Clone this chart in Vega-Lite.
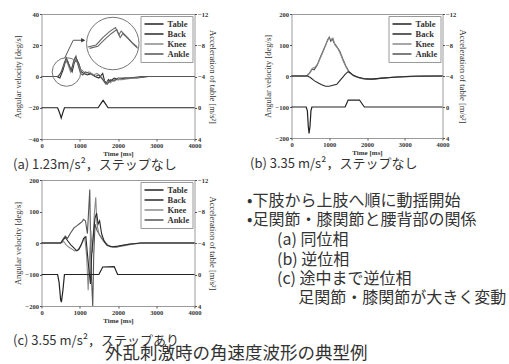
{
"$schema":"https://vega.github.io/schema/vega-lite/v6.json",
"padding":{"left":11.5,"top":10,"right":0,"bottom":0},
"background":"white",
"datasets":{
"w":[
{"p":"a","s":"Back","t":0,"v":0},{"p":"a","s":"Back","t":400,"v":0},{"p":"a","s":"Back","t":480,"v":-1},{"p":"a","s":"Back","t":560,"v":4},{"p":"a","s":"Back","t":620,"v":9},{"p":"a","s":"Back","t":680,"v":10},{"p":"a","s":"Back","t":740,"v":6},{"p":"a","s":"Back","t":800,"v":3},{"p":"a","s":"Back","t":860,"v":9},{"p":"a","s":"Back","t":920,"v":11},{"p":"a","s":"Back","t":980,"v":8},{"p":"a","s":"Back","t":1040,"v":3},{"p":"a","s":"Back","t":1100,"v":2},{"p":"a","s":"Back","t":1200,"v":1},{"p":"a","s":"Back","t":1300,"v":2},{"p":"a","s":"Back","t":1400,"v":0},{"p":"a","s":"Back","t":1500,"v":-1},{"p":"a","s":"Back","t":1600,"v":2},{"p":"a","s":"Back","t":1650,"v":-3},{"p":"a","s":"Back","t":1700,"v":-4},{"p":"a","s":"Back","t":1750,"v":-2},{"p":"a","s":"Back","t":1800,"v":-3},{"p":"a","s":"Back","t":1900,"v":-1},{"p":"a","s":"Back","t":2000,"v":-2},{"p":"a","s":"Back","t":2200,"v":-1},{"p":"a","s":"Back","t":2500,"v":-1},{"p":"a","s":"Back","t":2800,"v":0},{"p":"a","s":"Back","t":3200,"v":0},{"p":"a","s":"Back","t":4000,"v":0},
{"p":"a","s":"Knee","t":0,"v":0},{"p":"a","s":"Knee","t":420,"v":0},{"p":"a","s":"Knee","t":500,"v":2},{"p":"a","s":"Knee","t":580,"v":7},{"p":"a","s":"Knee","t":640,"v":11},{"p":"a","s":"Knee","t":700,"v":7},{"p":"a","s":"Knee","t":760,"v":3},{"p":"a","s":"Knee","t":820,"v":7},{"p":"a","s":"Knee","t":880,"v":12},{"p":"a","s":"Knee","t":940,"v":9},{"p":"a","s":"Knee","t":1000,"v":5},{"p":"a","s":"Knee","t":1060,"v":4},{"p":"a","s":"Knee","t":1150,"v":2},{"p":"a","s":"Knee","t":1250,"v":3},{"p":"a","s":"Knee","t":1350,"v":1},{"p":"a","s":"Knee","t":1450,"v":2},{"p":"a","s":"Knee","t":1550,"v":0},{"p":"a","s":"Knee","t":1620,"v":-2},{"p":"a","s":"Knee","t":1680,"v":-5},{"p":"a","s":"Knee","t":1740,"v":-3},{"p":"a","s":"Knee","t":1800,"v":-4},{"p":"a","s":"Knee","t":1900,"v":-2},{"p":"a","s":"Knee","t":2100,"v":-2},{"p":"a","s":"Knee","t":2400,"v":-1},{"p":"a","s":"Knee","t":2700,"v":0},{"p":"a","s":"Knee","t":4000,"v":0},
{"p":"a","s":"Ankle","t":0,"v":0},{"p":"a","s":"Ankle","t":440,"v":0},{"p":"a","s":"Ankle","t":520,"v":3},{"p":"a","s":"Ankle","t":600,"v":9},{"p":"a","s":"Ankle","t":650,"v":12},{"p":"a","s":"Ankle","t":710,"v":8},{"p":"a","s":"Ankle","t":780,"v":4},{"p":"a","s":"Ankle","t":840,"v":10},{"p":"a","s":"Ankle","t":900,"v":13},{"p":"a","s":"Ankle","t":960,"v":7},{"p":"a","s":"Ankle","t":1020,"v":2},{"p":"a","s":"Ankle","t":1080,"v":1},{"p":"a","s":"Ankle","t":1150,"v":3},{"p":"a","s":"Ankle","t":1250,"v":2},{"p":"a","s":"Ankle","t":1400,"v":0},{"p":"a","s":"Ankle","t":1500,"v":1},{"p":"a","s":"Ankle","t":1600,"v":-2},{"p":"a","s":"Ankle","t":1660,"v":-4},{"p":"a","s":"Ankle","t":1720,"v":-5},{"p":"a","s":"Ankle","t":1800,"v":-2},{"p":"a","s":"Ankle","t":1900,"v":-3},{"p":"a","s":"Ankle","t":2000,"v":-1},{"p":"a","s":"Ankle","t":2300,"v":-1},{"p":"a","s":"Ankle","t":2600,"v":0},{"p":"a","s":"Ankle","t":4000,"v":0},
{"p":"a","s":"Table","t":0,"v":0},{"p":"a","s":"Table","t":420,"v":0},{"p":"a","s":"Table","t":470,"v":0.6},{"p":"a","s":"Table","t":515,"v":1.3},{"p":"a","s":"Table","t":560,"v":0.6},{"p":"a","s":"Table","t":600,"v":0},{"p":"a","s":"Table","t":1480,"v":0},{"p":"a","s":"Table","t":1560,"v":-0.6},{"p":"a","s":"Table","t":1610,"v":-0.95},{"p":"a","s":"Table","t":1660,"v":-0.6},{"p":"a","s":"Table","t":1740,"v":0},{"p":"a","s":"Table","t":4000,"v":0},
{"p":"b","s":"Ankle","t":0,"v":0},{"p":"b","s":"Ankle","t":400,"v":0},{"p":"b","s":"Ankle","t":480,"v":10},{"p":"b","s":"Ankle","t":540,"v":22},{"p":"b","s":"Ankle","t":600,"v":20},{"p":"b","s":"Ankle","t":680,"v":35},{"p":"b","s":"Ankle","t":760,"v":60},{"p":"b","s":"Ankle","t":840,"v":82},{"p":"b","s":"Ankle","t":920,"v":105},{"p":"b","s":"Ankle","t":960,"v":118},{"p":"b","s":"Ankle","t":1000,"v":125},{"p":"b","s":"Ankle","t":1040,"v":112},{"p":"b","s":"Ankle","t":1080,"v":120},{"p":"b","s":"Ankle","t":1120,"v":108},{"p":"b","s":"Ankle","t":1200,"v":95},{"p":"b","s":"Ankle","t":1280,"v":80},{"p":"b","s":"Ankle","t":1360,"v":55},{"p":"b","s":"Ankle","t":1440,"v":32},{"p":"b","s":"Ankle","t":1520,"v":15},{"p":"b","s":"Ankle","t":1600,"v":5},{"p":"b","s":"Ankle","t":1700,"v":-2},{"p":"b","s":"Ankle","t":1850,"v":-8},{"p":"b","s":"Ankle","t":2000,"v":-11},{"p":"b","s":"Ankle","t":2200,"v":-10},{"p":"b","s":"Ankle","t":2400,"v":-7},{"p":"b","s":"Ankle","t":2700,"v":-4},{"p":"b","s":"Ankle","t":3000,"v":-2},{"p":"b","s":"Ankle","t":3500,"v":0},{"p":"b","s":"Ankle","t":4000,"v":0},
{"p":"b","s":"Knee","t":0,"v":0},{"p":"b","s":"Knee","t":420,"v":0},{"p":"b","s":"Knee","t":500,"v":12},{"p":"b","s":"Knee","t":560,"v":25},{"p":"b","s":"Knee","t":620,"v":28},{"p":"b","s":"Knee","t":700,"v":40},{"p":"b","s":"Knee","t":780,"v":62},{"p":"b","s":"Knee","t":860,"v":85},{"p":"b","s":"Knee","t":940,"v":110},{"p":"b","s":"Knee","t":990,"v":122},{"p":"b","s":"Knee","t":1050,"v":118},{"p":"b","s":"Knee","t":1100,"v":122},{"p":"b","s":"Knee","t":1150,"v":100},{"p":"b","s":"Knee","t":1230,"v":88},{"p":"b","s":"Knee","t":1300,"v":70},{"p":"b","s":"Knee","t":1380,"v":45},{"p":"b","s":"Knee","t":1460,"v":25},{"p":"b","s":"Knee","t":1540,"v":10},{"p":"b","s":"Knee","t":1650,"v":0},{"p":"b","s":"Knee","t":1800,"v":-6},{"p":"b","s":"Knee","t":2000,"v":-10},{"p":"b","s":"Knee","t":2300,"v":-8},{"p":"b","s":"Knee","t":2600,"v":-5},{"p":"b","s":"Knee","t":3000,"v":-2},{"p":"b","s":"Knee","t":4000,"v":0},
{"p":"b","s":"Back","t":0,"v":0},{"p":"b","s":"Back","t":420,"v":0},{"p":"b","s":"Back","t":500,"v":-5},{"p":"b","s":"Back","t":600,"v":-15},{"p":"b","s":"Back","t":700,"v":-22},{"p":"b","s":"Back","t":800,"v":-28},{"p":"b","s":"Back","t":900,"v":-33},{"p":"b","s":"Back","t":1000,"v":-33},{"p":"b","s":"Back","t":1100,"v":-30},{"p":"b","s":"Back","t":1200,"v":-27},{"p":"b","s":"Back","t":1280,"v":-15},{"p":"b","s":"Back","t":1350,"v":-5},{"p":"b","s":"Back","t":1420,"v":5},{"p":"b","s":"Back","t":1500,"v":14},{"p":"b","s":"Back","t":1560,"v":10},{"p":"b","s":"Back","t":1640,"v":2},{"p":"b","s":"Back","t":1750,"v":-3},{"p":"b","s":"Back","t":1900,"v":-8},{"p":"b","s":"Back","t":2100,"v":-10},{"p":"b","s":"Back","t":2400,"v":-7},{"p":"b","s":"Back","t":2800,"v":-3},{"p":"b","s":"Back","t":3200,"v":-1},{"p":"b","s":"Back","t":4000,"v":0},
{"p":"b","s":"Table","t":0,"v":0},{"p":"b","s":"Table","t":390,"v":0},{"p":"b","s":"Table","t":420,"v":0.5},{"p":"b","s":"Table","t":445,"v":2.5},{"p":"b","s":"Table","t":465,"v":3.4},{"p":"b","s":"Table","t":490,"v":2.5},{"p":"b","s":"Table","t":515,"v":0.5},{"p":"b","s":"Table","t":540,"v":0},{"p":"b","s":"Table","t":1420,"v":0},{"p":"b","s":"Table","t":1500,"v":-0.9},{"p":"b","s":"Table","t":1800,"v":-0.9},{"p":"b","s":"Table","t":1930,"v":0},{"p":"b","s":"Table","t":4000,"v":0},
{"p":"c","s":"Ankle","t":0,"v":0},{"p":"c","s":"Ankle","t":500,"v":0},{"p":"c","s":"Ankle","t":560,"v":12},{"p":"c","s":"Ankle","t":620,"v":22},{"p":"c","s":"Ankle","t":680,"v":15},{"p":"c","s":"Ankle","t":760,"v":32},{"p":"c","s":"Ankle","t":850,"v":48},{"p":"c","s":"Ankle","t":930,"v":55},{"p":"c","s":"Ankle","t":1000,"v":62},{"p":"c","s":"Ankle","t":1060,"v":68},{"p":"c","s":"Ankle","t":1100,"v":75},{"p":"c","s":"Ankle","t":1150,"v":70},{"p":"c","s":"Ankle","t":1200,"v":30},{"p":"c","s":"Ankle","t":1240,"v":120},{"p":"c","s":"Ankle","t":1262,"v":170},{"p":"c","s":"Ankle","t":1285,"v":-20},{"p":"c","s":"Ankle","t":1310,"v":-120},{"p":"c","s":"Ankle","t":1340,"v":-200},{"p":"c","s":"Ankle","t":1365,"v":-40},{"p":"c","s":"Ankle","t":1400,"v":60},{"p":"c","s":"Ankle","t":1450,"v":40},{"p":"c","s":"Ankle","t":1520,"v":25},{"p":"c","s":"Ankle","t":1600,"v":10},{"p":"c","s":"Ankle","t":1700,"v":-5},{"p":"c","s":"Ankle","t":1800,"v":-12},{"p":"c","s":"Ankle","t":1950,"v":-13},{"p":"c","s":"Ankle","t":2100,"v":-8},{"p":"c","s":"Ankle","t":2300,"v":-3},{"p":"c","s":"Ankle","t":2600,"v":0},{"p":"c","s":"Ankle","t":4000,"v":0},
{"p":"c","s":"Knee","t":0,"v":0},{"p":"c","s":"Knee","t":520,"v":0},{"p":"c","s":"Knee","t":580,"v":5},{"p":"c","s":"Knee","t":640,"v":-5},{"p":"c","s":"Knee","t":700,"v":-12},{"p":"c","s":"Knee","t":780,"v":-18},{"p":"c","s":"Knee","t":860,"v":-25},{"p":"c","s":"Knee","t":950,"v":-22},{"p":"c","s":"Knee","t":1020,"v":-10},{"p":"c","s":"Knee","t":1080,"v":5},{"p":"c","s":"Knee","t":1130,"v":18},{"p":"c","s":"Knee","t":1180,"v":-40},{"p":"c","s":"Knee","t":1220,"v":-150},{"p":"c","s":"Knee","t":1250,"v":-60},{"p":"c","s":"Knee","t":1290,"v":40},{"p":"c","s":"Knee","t":1330,"v":-30},{"p":"c","s":"Knee","t":1380,"v":90},{"p":"c","s":"Knee","t":1418,"v":145},{"p":"c","s":"Knee","t":1450,"v":60},{"p":"c","s":"Knee","t":1500,"v":30},{"p":"c","s":"Knee","t":1560,"v":20},{"p":"c","s":"Knee","t":1650,"v":5},{"p":"c","s":"Knee","t":1750,"v":-8},{"p":"c","s":"Knee","t":1900,"v":-14},{"p":"c","s":"Knee","t":2100,"v":-10},{"p":"c","s":"Knee","t":2400,"v":-3},{"p":"c","s":"Knee","t":2700,"v":0},{"p":"c","s":"Knee","t":4000,"v":0},
{"p":"c","s":"Back","t":0,"v":0},{"p":"c","s":"Back","t":500,"v":0},{"p":"c","s":"Back","t":560,"v":8},{"p":"c","s":"Back","t":620,"v":18},{"p":"c","s":"Back","t":680,"v":8},{"p":"c","s":"Back","t":760,"v":-5},{"p":"c","s":"Back","t":840,"v":-15},{"p":"c","s":"Back","t":920,"v":-25},{"p":"c","s":"Back","t":980,"v":-20},{"p":"c","s":"Back","t":1040,"v":-5},{"p":"c","s":"Back","t":1100,"v":15},{"p":"c","s":"Back","t":1160,"v":20},{"p":"c","s":"Back","t":1220,"v":-60},{"p":"c","s":"Back","t":1280,"v":-130},{"p":"c","s":"Back","t":1310,"v":-40},{"p":"c","s":"Back","t":1360,"v":30},{"p":"c","s":"Back","t":1400,"v":80},{"p":"c","s":"Back","t":1440,"v":95},{"p":"c","s":"Back","t":1480,"v":60},{"p":"c","s":"Back","t":1520,"v":70},{"p":"c","s":"Back","t":1570,"v":30},{"p":"c","s":"Back","t":1640,"v":5},{"p":"c","s":"Back","t":1720,"v":-8},{"p":"c","s":"Back","t":1850,"v":-12},{"p":"c","s":"Back","t":2000,"v":-10},{"p":"c","s":"Back","t":2300,"v":-4},{"p":"c","s":"Back","t":2600,"v":0},{"p":"c","s":"Back","t":4000,"v":0},
{"p":"c","s":"Table","t":0,"v":0},{"p":"c","s":"Table","t":420,"v":0},{"p":"c","s":"Table","t":460,"v":1},{"p":"c","s":"Table","t":500,"v":3.2},{"p":"c","s":"Table","t":520,"v":3.5},{"p":"c","s":"Table","t":560,"v":2},{"p":"c","s":"Table","t":600,"v":0},{"p":"c","s":"Table","t":1500,"v":0},{"p":"c","s":"Table","t":1600,"v":-0.95},{"p":"c","s":"Table","t":1900,"v":-1.0},{"p":"c","s":"Table","t":1990,"v":0},{"p":"c","s":"Table","t":4000,"v":0}
],
"ann":[
{"k":"src","t":654,"v":2.9},
{"k":"dst","t":1864,"v":21.1},
{"k":"conn","t":609,"v":12.0},{"k":"conn","t":829,"v":23.2},{"k":"conn","t":1090,"v":23.2},
{"k":"arrow","t":1090,"v":23.2},
{"k":"in1","t":1211,"v":18.9},{"k":"in1","t":1429,"v":20.2},{"k":"in1","t":1603,"v":24.9},{"k":"in1","t":1778,"v":28.7},{"k":"in1","t":1935,"v":31.3},{"k":"in1","t":2022,"v":26.6},{"k":"in1","t":2083,"v":29.1},{"k":"in1","t":2214,"v":25.9},{"k":"in1","t":2370,"v":21.7},{"k":"in1","t":2501,"v":18.9},
{"k":"in2","t":1255,"v":18.0},{"k":"in2","t":1473,"v":19.3},{"k":"in2","t":1647,"v":23.6},{"k":"in2","t":1821,"v":27.4},{"k":"in2","t":1969,"v":30.0},{"k":"in2","t":2057,"v":24.9},{"k":"in2","t":2126,"v":27.4},{"k":"in2","t":2257,"v":24.4},{"k":"in2","t":2405,"v":20.6},{"k":"in2","t":2519,"v":18.0}
],
"txt":[
{"line":1,"indent":0,"text":"•下肢から上肢へ順に動揺開始"},
{"line":2,"indent":0,"text":"•足関節・膝関節と腰背部の関係"},
{"line":3,"indent":1.875,"text":"(a) 同位相"},
{"line":4,"indent":1.875,"text":"(b) 逆位相"},
{"line":5,"indent":1.875,"text":"(c) 途中まで逆位相"},
{"line":5.92,"indent":3.2,"text":"足関節・膝関節が大きく変動"}
]
},
"title":{"text":"外乱刺激時の角速度波形の典型例","orient":"bottom","anchor":"middle","fontSize":17.5,"offset":-3,"dx":-23},
"vconcat":[
{"hconcat":[
{"width":153,"height":125,
"title":{"text":"(a) 1.23m/s²，ステップなし","orient":"bottom","anchor":"start","offset":2},
"layer":[
{"layer":[
{"data":{"name":"w"},"transform":[{"filter":"datum.p==='a' && datum.s!=='Table'"}],"mark":{"type":"line","strokeWidth":1.1},
"encoding":{"x":{"field":"t","type":"quantitative","scale":{"domain":[0,4000],"nice":false},"axis":{"title":"Time [ms]","values":[0,1000,2000,3000,4000],"format":"d","titleFontSize":7,"titleFontWeight":"bold","titlePadding":1}},
"y":{"field":"v","type":"quantitative","scale":{"domain":[-40,40],"nice":false},"axis":{"title":"Angular velocity [deg/s]","values":[-40,-20,0,20,40],"format":"d","titleX":-19.5}},
"color":{"field":"s","type":"nominal","scale":{"domain":["Table","Back","Knee","Ankle"],"range":["#222222","#2a2a2a","#8a8a8a","#555555"]},"legend":{"title":null}}}},
{"data":{"name":"ann"},"transform":[{"filter":"datum.k==='src'"}],"mark":{"type":"point","shape":"circle","size":820,"filled":false,"color":"#777777","strokeWidth":1,"opacity":1},
"encoding":{"x":{"field":"t","type":"quantitative","scale":{"domain":[0,4000],"nice":false},"axis":{"title":"Time [ms]","values":[0,1000,2000,3000,4000],"format":"d","titleFontSize":7,"titleFontWeight":"bold","titlePadding":1}},"y":{"field":"v","type":"quantitative","scale":{"domain":[-40,40],"nice":false},"axis":{"title":"Angular velocity [deg/s]","values":[-40,-20,0,20,40],"format":"d","titleX":-19.5}}}},
{"data":{"name":"ann"},"transform":[{"filter":"datum.k==='dst'"}],"mark":{"type":"point","shape":"circle","size":2750,"filled":true,"fill":"white","stroke":"#777777","strokeWidth":1,"opacity":1},
"encoding":{"x":{"field":"t","type":"quantitative","scale":{"domain":[0,4000],"nice":false},"axis":{"title":"Time [ms]","values":[0,1000,2000,3000,4000],"format":"d","titleFontSize":7,"titleFontWeight":"bold","titlePadding":1}},"y":{"field":"v","type":"quantitative","scale":{"domain":[-40,40],"nice":false},"axis":{"title":"Angular velocity [deg/s]","values":[-40,-20,0,20,40],"format":"d","titleX":-19.5}}}},
{"data":{"name":"ann"},"transform":[{"filter":"datum.k==='conn'"}],"mark":{"type":"line","color":"#555555","strokeWidth":1},
"encoding":{"x":{"field":"t","type":"quantitative","scale":{"domain":[0,4000],"nice":false},"axis":{"title":"Time [ms]","values":[0,1000,2000,3000,4000],"format":"d","titleFontSize":7,"titleFontWeight":"bold","titlePadding":1}},"y":{"field":"v","type":"quantitative","scale":{"domain":[-40,40],"nice":false},"axis":{"title":"Angular velocity [deg/s]","values":[-40,-20,0,20,40],"format":"d","titleX":-19.5}}}},
{"data":{"name":"ann"},"transform":[{"filter":"datum.k==='arrow'"}],"mark":{"type":"point","shape":"triangle-right","size":22,"filled":true,"color":"#333333","opacity":1},
"encoding":{"x":{"field":"t","type":"quantitative","scale":{"domain":[0,4000],"nice":false},"axis":{"title":"Time [ms]","values":[0,1000,2000,3000,4000],"format":"d","titleFontSize":7,"titleFontWeight":"bold","titlePadding":1}},"y":{"field":"v","type":"quantitative","scale":{"domain":[-40,40],"nice":false},"axis":{"title":"Angular velocity [deg/s]","values":[-40,-20,0,20,40],"format":"d","titleX":-19.5}}}},
{"data":{"name":"ann"},"transform":[{"filter":"datum.k==='in1' || datum.k==='in2'"}],"mark":{"type":"line","color":"#666666","strokeWidth":1.1},
"encoding":{"x":{"field":"t","type":"quantitative","scale":{"domain":[0,4000],"nice":false},"axis":{"title":"Time [ms]","values":[0,1000,2000,3000,4000],"format":"d","titleFontSize":7,"titleFontWeight":"bold","titlePadding":1}},"y":{"field":"v","type":"quantitative","scale":{"domain":[-40,40],"nice":false},"axis":{"title":"Angular velocity [deg/s]","values":[-40,-20,0,20,40],"format":"d","titleX":-19.5}},"detail":{"field":"k"}}}
]},
{"data":{"name":"w"},"transform":[{"filter":"datum.p==='a' && datum.s==='Table'"}],"mark":{"type":"line","strokeWidth":1.2},
"encoding":{"x":{"field":"t","type":"quantitative","scale":{"domain":[0,4000],"nice":false},"axis":{"title":"Time [ms]","values":[0,1000,2000,3000,4000],"format":"d","titleFontSize":7,"titleFontWeight":"bold","titlePadding":1}},
"y":{"field":"v","type":"quantitative","scale":{"domain":[-12,4],"reverse":true,"nice":false,"zero":false},"axis":{"orient":"right","title":"Acceleration of table [m/s²]","values":[-12,-8,-4,0,4],"format":"d","titleX":12.5}},
"color":{"field":"s","type":"nominal","scale":{"domain":["Table","Back","Knee","Ankle"],"range":["#222222","#2a2a2a","#8a8a8a","#555555"]},"legend":{"title":null}}}}
],
"resolve":{"scale":{"y":"independent"}}
},
{"width":151,"height":124,
"title":{"text":"(b) 3.35 m/s²，ステップなし","orient":"bottom","anchor":"start","offset":2,"dx":-13},
"layer":[
{"data":{"name":"w"},"transform":[{"filter":"datum.p==='b' && datum.s!=='Table'"}],"mark":{"type":"line","strokeWidth":1.1},
"encoding":{"x":{"field":"t","type":"quantitative","scale":{"domain":[0,4000],"nice":false},"axis":{"title":"Time [ms]","values":[0,1000,2000,3000,4000],"format":"d","titleFontSize":7,"titleFontWeight":"bold","titlePadding":1}},
"y":{"field":"v","type":"quantitative","scale":{"domain":[-200,200],"nice":false},"axis":{"title":"Angular velocity [deg/s]","values":[-200,-100,0,100,200],"format":"d","titleX":-19.5}},
"color":{"field":"s","type":"nominal","scale":{"domain":["Table","Back","Knee","Ankle"],"range":["#222222","#2a2a2a","#8a8a8a","#555555"]},"legend":{"title":null}}}},
{"data":{"name":"w"},"transform":[{"filter":"datum.p==='b' && datum.s==='Table'"}],"mark":{"type":"line","strokeWidth":1.2},
"encoding":{"x":{"field":"t","type":"quantitative","scale":{"domain":[0,4000],"nice":false},"axis":{"title":"Time [ms]","values":[0,1000,2000,3000,4000],"format":"d","titleFontSize":7,"titleFontWeight":"bold","titlePadding":1}},
"y":{"field":"v","type":"quantitative","scale":{"domain":[-12,4],"reverse":true,"nice":false,"zero":false},"axis":{"orient":"right","title":"Acceleration of table [m/s²]","values":[-12,-8,-4,0,4],"format":"d","titleX":14.5}},
"color":{"field":"s","type":"nominal","scale":{"domain":["Table","Back","Knee","Ankle"],"range":["#222222","#2a2a2a","#8a8a8a","#555555"]},"legend":{"title":null}}}}
],
"resolve":{"scale":{"y":"independent"}}
}
],"spacing":32,"resolve":{"scale":{"color":"independent"},"legend":{"color":"independent"}}},
{"hconcat":[
{"width":153,"height":126,
"title":{"text":"(c) 3.55 m/s²，ステップあり","orient":"bottom","anchor":"start","offset":11},
"layer":[
{"data":{"name":"w"},"transform":[{"filter":"datum.p==='c' && datum.s!=='Table'"}],"mark":{"type":"line","strokeWidth":1.1},
"encoding":{"x":{"field":"t","type":"quantitative","scale":{"domain":[0,4000],"nice":false},"axis":{"title":"Time [ms]","values":[0,1000,2000,3000,4000],"format":"d","titleFontSize":7,"titleFontWeight":"bold","titlePadding":1}},
"y":{"field":"v","type":"quantitative","scale":{"domain":[-200,200],"nice":false},"axis":{"title":"Angular velocity [deg/s]","values":[-200,-100,0,100,200],"format":"d","titleX":-19.5}},
"color":{"field":"s","type":"nominal","scale":{"domain":["Table","Back","Knee","Ankle"],"range":["#222222","#2a2a2a","#8a8a8a","#555555"]},"legend":{"title":null}}}},
{"data":{"name":"w"},"transform":[{"filter":"datum.p==='c' && datum.s==='Table'"}],"mark":{"type":"line","strokeWidth":1.2},
"encoding":{"x":{"field":"t","type":"quantitative","scale":{"domain":[0,4000],"nice":false},"axis":{"title":"Time [ms]","values":[0,1000,2000,3000,4000],"format":"d","titleFontSize":7,"titleFontWeight":"bold","titlePadding":1}},
"y":{"field":"v","type":"quantitative","scale":{"domain":[-12,4],"reverse":true,"nice":false,"zero":false},"axis":{"orient":"right","title":"Acceleration of table [m/s²]","values":[-12,-8,-4,0,4],"format":"d","titleX":12.5}},
"color":{"field":"s","type":"nominal","scale":{"domain":["Table","Back","Knee","Ankle"],"range":["#222222","#2a2a2a","#8a8a8a","#555555"]},"legend":{"title":null}}}}
],
"resolve":{"scale":{"y":"independent"}}
},
{"width":230,"height":130,"view":{"stroke":null},
"data":{"name":"txt"},
"mark":{"type":"text","align":"left","baseline":"middle","font":"Noto Sans CJK JP","fontSize":16,"color":"#333333"},
"encoding":{"x":{"field":"indent","type":"quantitative","scale":{"domain":[0,14.375],"nice":false,"zero":false},"axis":null},
"y":{"field":"line","type":"quantitative","scale":{"domain":[-0.05,6.55],"reverse":true,"nice":false,"zero":false},"axis":null},
"text":{"field":"text"}}}
],"spacing":30.5,"resolve":{"scale":{"color":"independent"},"legend":{"color":"independent"}}}
],
"spacing":4,
"resolve":{"scale":{"color":"independent"},"legend":{"color":"independent"}},
"config":{
"view":{"stroke":"#9a9a9a","strokeWidth":1},
"axis":{"domain":false,"grid":false,"tickSize":2,"tickColor":"#555555","labelFont":"Liberation Serif","labelFontSize":6.5,"labelFontWeight":"bold","labelColor":"#333333","labelPadding":1,"titleFont":"Liberation Serif","titleFontSize":8.5,"titleFontWeight":"normal","titleColor":"#333333","labelFlush":false,"labelOverlap":false},
"legend":{"orient":"top-right","offset":2,"padding":3,"strokeColor":"#999999","fillColor":"white","symbolType":"stroke","symbolSize":361,"symbolStrokeWidth":1.3,"labelFont":"Liberation Serif","labelFontSize":8.5,"labelFontWeight":"bold","labelColor":"#333333","clipHeight":10,"rowPadding":0,"labelOffset":3},
"title":{"font":"Noto Sans CJK JP","fontSize":13,"fontWeight":"normal","color":"#333333"}
}
}
